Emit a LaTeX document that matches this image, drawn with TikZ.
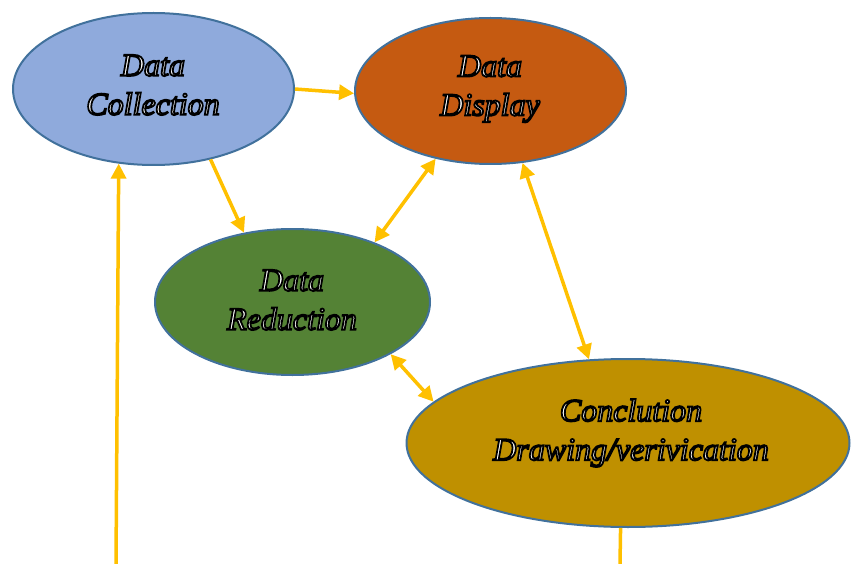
\documentclass[tikz,border=0pt]{standalone}
\usepackage{fontspec}
\setmainfont{Liberation Serif}
\usetikzlibrary{shapes.geometric,arrows.meta}
% outlined lettering: white fill, heavy black stroke
\newcommand\hollowtext[1]{{\special{pdf:literal direct 0 G 2 Tr 1.8 w}#1\special{pdf:literal direct 0 Tr}}}
\definecolor{edgeblue}{HTML}{41719C}
\definecolor{collfill}{HTML}{8FAADC}
\definecolor{dispfill}{HTML}{C55A11}
\definecolor{redfill}{HTML}{548235}
\definecolor{concfill}{HTML}{BF9000}
\definecolor{flow}{HTML}{FFC000}
\tikzset{
  stage/.style={ellipse, draw=edgeblue, line width=2pt, inner sep=0pt},
  caption/.style={text=white, align=center, inner sep=0pt,
    font=\fontsize{32}{39}\selectfont\itshape},
  flowline/.style={draw=flow, line width=3.5pt},
  flowarrow/.style={flowline, -{Triangle[length=15pt,width=15pt]}},
  flowboth/.style={flowline, {Triangle[length=15pt,width=15pt]}-{Triangle[length=15pt,width=15pt]}}
}
\begin{document}
\begin{tikzpicture}[x=1pt,y=-1pt]
\useasboundingbox (0,0) rectangle (851,564);
% stages
\node[stage, fill=collfill, minimum width=281pt, minimum height=152pt] (coll) at (153.5,89) {};
\node[stage, fill=dispfill, minimum width=271pt, minimum height=146pt] (disp) at (490.5,91) {};
\node[stage, fill=redfill, minimum width=275pt, minimum height=146pt] (red) at (292.5,302) {};
\node[stage, fill=concfill, minimum width=443pt, minimum height=168pt] (conc) at (628,443) {};
% stage names
\node[caption] (colltext) at (153,85) {\hollowtext{Data}\\\hollowtext{Collection}};
\node[caption] (disptext) at (490,89) {\hollowtext{Data}\\\hollowtext{Display}};
\node[caption] (redtext) at (292,300) {\hollowtext{Data}\\\hollowtext{Reduction}};
\node[caption] (conctext) at (631,433) {\hollowtext{Conclution}\\\hollowtext{Drawing/verivication}};
% loose ends of the feedback line
\coordinate (feedin) at (116,564);
\coordinate (feedout) at (620,564);
% flows
\draw[flowarrow] (coll.0) -- (disp.181);
\draw[flowarrow] (coll.-51) -- (red.125);
\draw[flowboth] (disp.-129) -- (red.36);
\draw[flowboth] (disp.-66) -- (conc.115);
\draw[flowboth] (red.-28) -- (conc.168);
\draw[flowarrow] (feedin) -- (coll.-115);
\draw[flowline] (conc.-95) -- (feedout);
\end{tikzpicture}
\end{document}
